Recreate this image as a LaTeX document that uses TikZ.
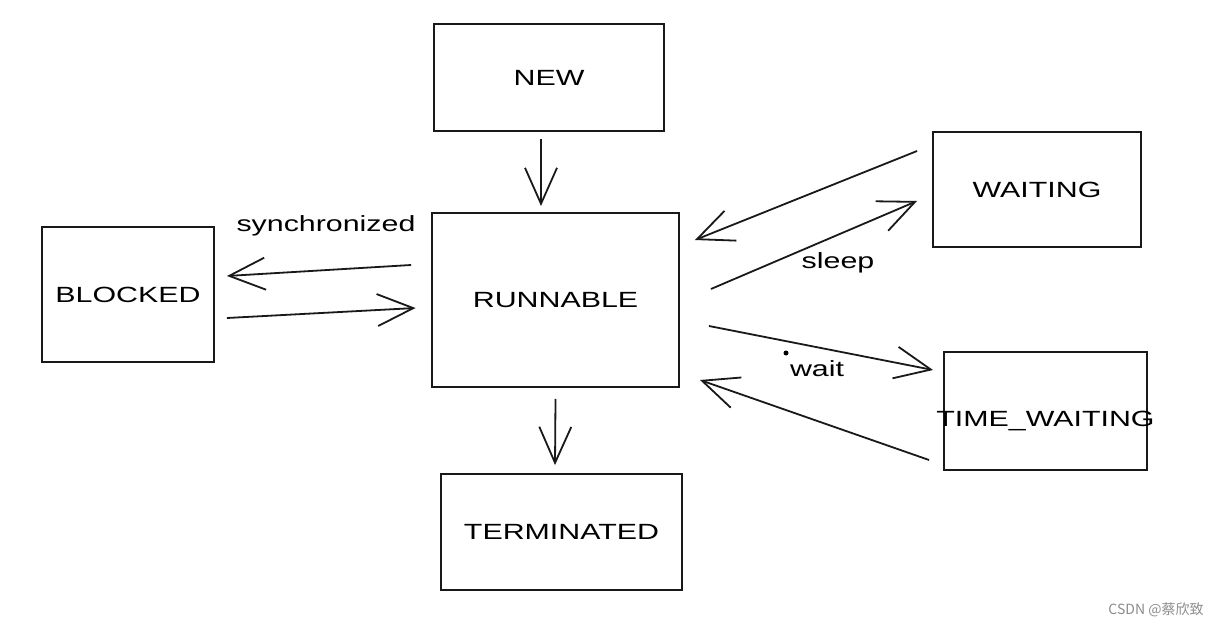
\documentclass[tikz,border=0pt]{standalone}
\usepackage{fontspec}
\setmainfont{Liberation Sans}[FakeStretch=1.38]
\newfontfamily\cjk{Noto Sans CJK SC}
\usetikzlibrary{arrows.meta,calc}
\tikzset{
  state/.style={draw=black!90, line width=1.9pt, fill=none, font=\fontsize{22}{24}\selectfont, inner sep=0pt},
  arr/.style={draw=black!90, line width=1.8pt, -{Straight Barb[length=36pt,width=32pt,line width=1.8pt]}},
  lbl/.style={font=\fontsize{22}{24}\selectfont, inner sep=0pt},
}
\begin{document}
\begin{tikzpicture}[x=1pt,y=-1pt]
\useasboundingbox[fill=white] (0,0) rectangle (1221,628);
\node[state, minimum width=230pt, minimum height=107pt] (new) at (549,77.5) {NEW};
\node[state, minimum width=247pt, minimum height=174pt] (run) at (555.5,300) {RUNNABLE};
\node[state, minimum width=172pt, minimum height=135pt] (blk) at (128,294.5) {BLOCKED};
\node[state, minimum width=208pt, minimum height=115pt] (wait) at (1037,189.5) {WAITING};
\node[state, minimum width=203pt, minimum height=118pt] (tw) at (1045.5,411) {\raisebox{-15pt}[0pt][0pt]{\makebox[0pt]{TIME\_WAITING}}};
\node[state, minimum width=241pt, minimum height=116pt] (term) at (561.5,532) {TERMINATED};

\draw[arr] ($(new.south)+(-8,7)$) -- ($(run.north)+(-14.5,-6)$);
\draw[arr] ($(run.west)+(-20,-35)$) -- ($(blk.east)+(12,-18.5)$);
\draw[arr] ($(blk.east)+(12,23.5)$) -- ($(run.west)+(-15.5,8)$);
\draw[arr] ($(wait.west)+(-15,-38.5)$) -- ($(run.east)+(15,-60)$);
\draw[arr] ($(run.east)+(31,-11)$) -- ($(wait.west)+(-15,11.5)$);
\draw[arr] ($(run.east)+(29,26)$) -- ($(tw.west)+(-10,-41)$);
\draw[arr] ($(tw.west)+(-14,49)$) -- ($(run.east)+(20,80)$);
\draw[arr] ($(run.south)+(0,11)$) -- ($(term.north)+(-6.5,-8)$);

\node[lbl] (lsync) at (326,226) {synchronized};
\node[lbl] (lsleep) at (838,263) {sleep};
\node[lbl] (lwait) at (817,369) {wait};
\fill[black] (786,353) circle (2.5);

\node[font=\cjk\fontsize{14}{16}\selectfont, text=black!45, inner sep=0pt] (wm) at (1156,610) {CSDN @蔡欣致};
\end{tikzpicture}
\end{document}
